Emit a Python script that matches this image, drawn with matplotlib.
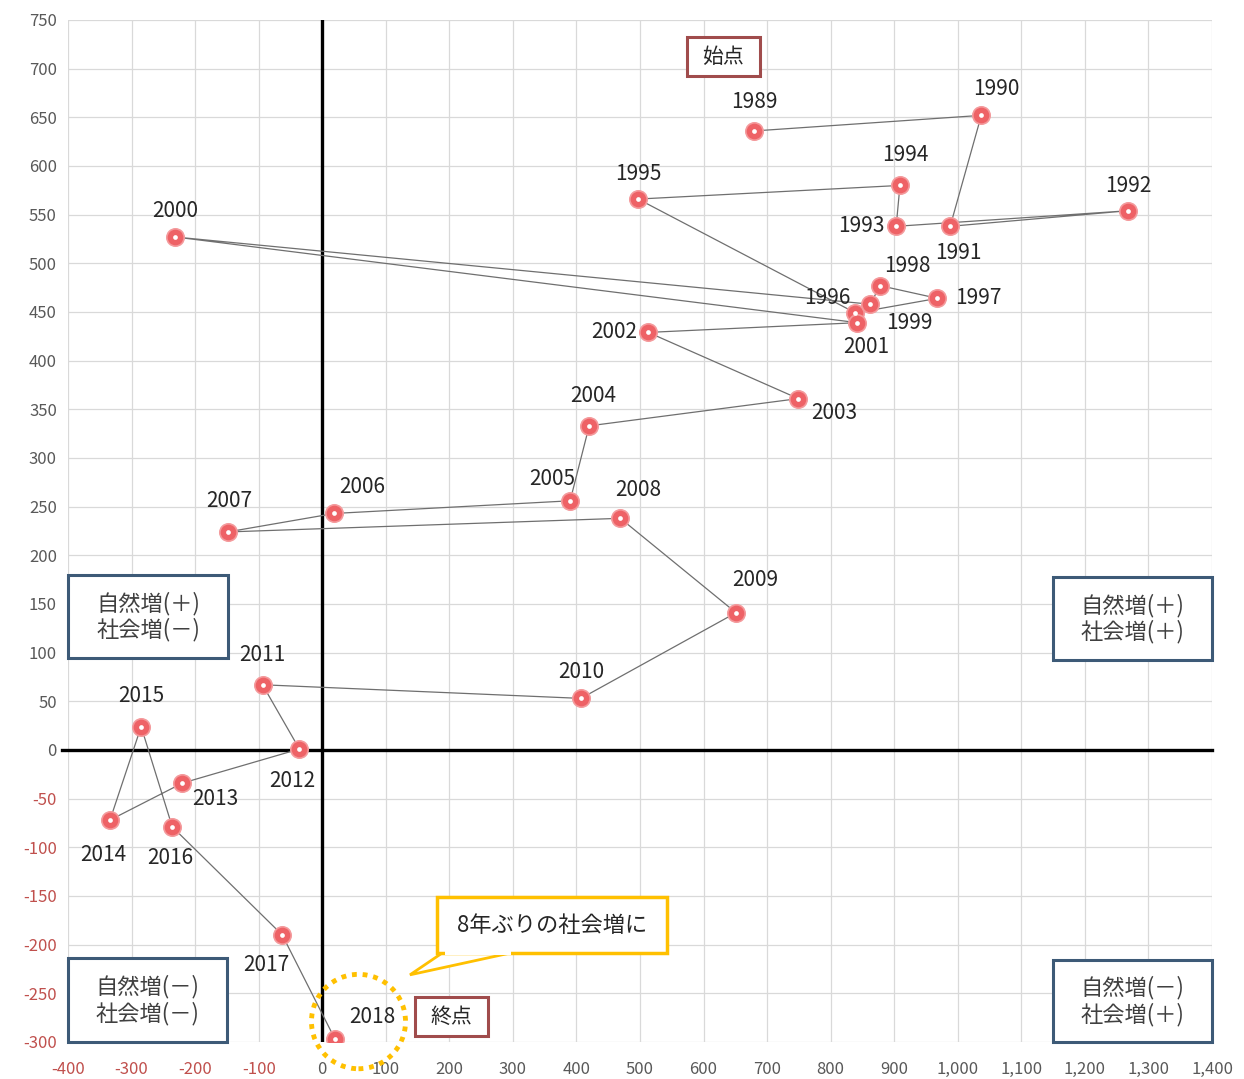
import matplotlib
matplotlib.use('Agg')
import matplotlib.pyplot as plt
from matplotlib.patches import Rectangle, Ellipse, Polygon
from matplotlib.ticker import FuncFormatter, MultipleLocator

plt.rcParams['font.family'] = ['Noto Sans CJK JP', 'DejaVu Sans']

# 社会増 (x) と 自然増 (y)
years = list(range(1989, 2019))
social = [680, 1037, 988, 1268, 903, 909, 497, 839, 968, 878,
          862, -231, 842, 513, 749, 420, 390, 19, -149, 469,
          651, 407, -94, -36, -220, -334, -285, -236, -63, 20]
natural = [636, 652, 538, 554, 538, 580, 566, 449, 464, 477,
           458, 527, 439, 429, 361, 333, 256, 243, 224, 238,
           141, 53, 67, 1, -34, -72, 24, -79, -190, -297]
# label offsets (pixels) per year
label_dx = [0, 15, 8, 0, -35, 5, 0, -28, 41, 27,
            39, 0, 9, -34, 36, 4, -18, 28, 2, 18,
            19, 0, 0, -7, 33, -7, 0, -2, -16, 37]
label_dy = [29, 26, -27, 25, 0, 30, 25, 15, 0, 20,
            -19, 26, -24, 0, -14, 30, 22, 26, 31, 28,
            33, 26, 30, -32, -16, -35, 31, -31, -30, 22]

quadrants = [
    ("自然増(＋)\n社会増(－)", -400, 94, -148, 180),
    ("自然増(＋)\n社会増(＋)", 1150, 92, 1400, 178),
    ("自然増(－)\n社会増(－)", -400, -300, -150, -214),
    ("自然増(－)\n社会増(＋)", 1150, -300, 1400, -216),
]

fig = plt.figure(figsize=(12.44, 10.79), dpi=100)
ax = fig.add_axes([0.0547, 0.0343, 0.9196, 0.9472])
ax.set_xlim(-400, 1400)
ax.set_ylim(-300, 750)
ax.xaxis.set_major_locator(MultipleLocator(100))
ax.yaxis.set_major_locator(MultipleLocator(50))
ax.grid(True, color='#d9d9d9', lw=0.9)
ax.set_axisbelow(True)
for s in ax.spines.values():
    s.set_visible(False)
ax.tick_params(length=0, labelsize=12, colors='#595959')
ax.tick_params(axis='x', pad=14)
ax.tick_params(axis='y', pad=8)
ax.xaxis.set_major_formatter(FuncFormatter(lambda v, p: f"{int(v):,}"))
ax.yaxis.set_major_formatter(FuncFormatter(lambda v, p: f"{int(v)}"))
fig.canvas.draw()
for lab in ax.get_xticklabels() + ax.get_yticklabels():
    t = lab.get_text()
    if t.startswith('-') or t.startswith('−'):
        lab.set_color('#c0504d')

# axes through origin
ax.axvline(0, color='black', lw=2.4, zorder=2)
ax.plot([-410, 1400], [0, 0], color='black', lw=2.4, zorder=2, clip_on=False)

# path
ax.plot(social, natural, color='#6f6f6f', lw=0.9, zorder=3)
ax.plot(social, natural, 'o', ms=12.5, mfc='#ee6266', mec='#f49a9c', mew=1.2, zorder=4)
ax.plot(social, natural, 'o', ms=3.4, mfc='white', mec='none', zorder=5)

for yr, x, y, dx, dy in zip(years, social, natural, label_dx, label_dy):
    ax.annotate(str(yr), (x, y), xytext=(dx, dy), textcoords='offset pixels',
                ha='center', va='center', fontsize=15, color='#262626', zorder=6)

# quadrant boxes
for text, x0, y0, x1, y1 in quadrants:
    ax.add_patch(Rectangle((x0, y0), x1 - x0, y1 - y0, facecolor='white',
                           edgecolor='#3d5a77', lw=2.2, zorder=7, clip_on=False))
    ax.text((x0 + x1) / 2, (y0 + y1) / 2, text, ha='center', va='center',
            fontsize=16, color='#404040', linespacing=1.15, zorder=8)

# start / end
for text, cx, cy in [("始点", 631, 712), ("終点", 203, -274)]:
    ax.add_patch(Rectangle((cx - 57, cy - 20), 114, 40, facecolor='white',
                           edgecolor='#a04c4c', lw=2.2, zorder=7))
    ax.text(cx, cy, text, ha='center', va='center', fontsize=15, color='#262626', zorder=8)

# callout
ax.add_patch(Ellipse((57, -279), 148, 97, fill=False, edgecolor='#ffc000',
                     lw=3.5, ls=(0, (1, 1.2)), zorder=7, clip_on=False))
ax.add_patch(Polygon([(190, -208), (300, -208), (138, -231)], closed=True,
                     facecolor='white', edgecolor='#ffc000', lw=2, zorder=7))
ax.add_patch(Rectangle((180, -209), 363, 58, facecolor='white',
                       edgecolor='#ffc000', lw=2.5, zorder=8))
ax.add_patch(Rectangle((193, -211), 104, 4, facecolor='white',
                       edgecolor='none', zorder=9))
ax.text(361, -180, "8年ぶりの社会増に", ha='center', va='center',
        fontsize=16, color='#262626', zorder=9)

fig.savefig('out.png', dpi=100, facecolor='white')
